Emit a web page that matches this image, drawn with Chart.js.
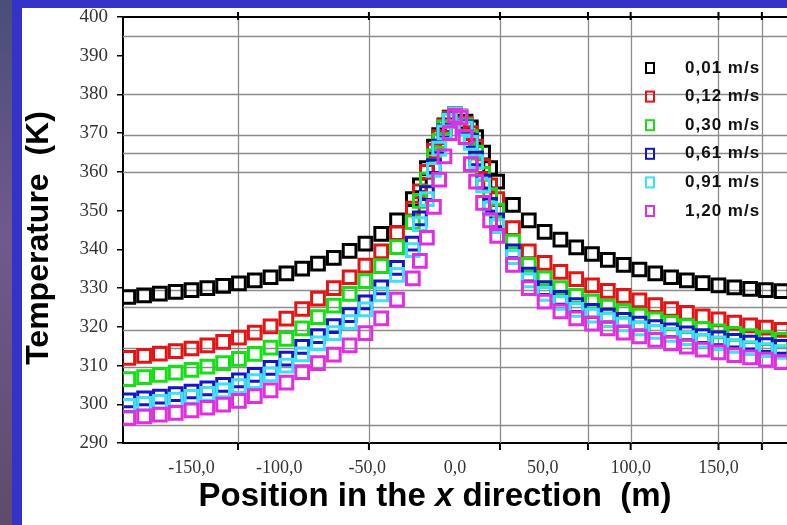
<!DOCTYPE html>
<html>
<head>
<meta charset="utf-8">
<script src="https://cdn.jsdelivr.net/npm/chart.js@4.4.1/dist/chart.umd.min.js"></script>
<style>
  html, body { margin: 0; padding: 0; width: 787px; height: 525px; overflow: hidden; }
  body { position: relative; background: linear-gradient(180deg, #4a4e78 0%, #6f5a8c 45%, #5e4c6a 100%); }
  #frame { position: absolute; left: 12px; top: 0; width: 775px; height: 525px; background: #3532c9; }
  #sheet { position: absolute; left: 22px; top: 8px; width: 765px; height: 517px; background: #fff; overflow: hidden; }
  canvas { display: block; }
</style>
</head>
<body>
<div id="frame"></div>
<div id="sheet"><canvas id="c" width="765" height="517"></canvas></div>
<script>
// Position along x (m) of each sample
const positions = [
  -186, -177, -168, -159, -150, -141, -132, -123, -114, -105, -96, -87, -78, -69, -60, -51, -42, -33, -24,
  -20, -16, -12, -9, -6, -3, 0, 3, 6, 9, 12, 16, 20,
  24, 33, 42, 51, 60, 69, 78, 87, 96, 105, 114, 123, 132, 141, 150, 159, 168, 177, 186
];

// Temperature (K) for each wind speed
const temp001 = [
  327.7, 328.1, 328.6, 329.0, 329.5, 330.0, 330.6, 331.2, 332.0, 332.8, 333.8, 335.0, 336.3, 337.8, 339.6, 341.5, 344.0, 347.5, 353.0,
  356.5, 361.0, 366.5, 369.5, 372.0, 374.0, 374.8, 374.3, 373.0, 371.5, 369.0, 365.0, 361.0,
  357.5, 351.5, 347.5, 344.5, 342.5, 340.5, 338.8, 337.3, 336.0, 334.8, 333.8, 332.8, 332.0, 331.3, 330.7, 330.2, 329.8, 329.5, 329.2
];
const temp012 = [
  312.0, 312.5, 313.1, 313.7, 314.4, 315.2, 316.1, 317.2, 318.5, 320.1, 322.1, 324.6, 327.3, 330.0, 332.8, 335.8, 339.5, 344.2, 350.5,
  355.0, 360.0, 365.5, 369.0, 371.8, 373.8, 374.8, 374.3, 372.5, 370.0, 366.5, 361.5, 356.5,
  353.0, 345.5, 339.5, 336.5, 334.2, 332.3, 330.7, 329.3, 328.0, 326.8, 325.6, 324.6, 323.6, 322.7, 321.9, 321.1, 320.4, 319.8, 319.2
];
const temp030 = [
  306.5, 307.0, 307.6, 308.2, 308.9, 309.7, 310.6, 311.7, 313.0, 314.6, 316.9, 319.6, 322.5, 325.5, 328.5, 331.8, 335.7, 340.6, 347.0,
  352.5, 358.0, 364.0, 368.0, 371.5, 373.5, 374.8, 374.2, 372.0, 369.0, 365.0, 359.5, 354.0,
  350.0, 342.0, 336.0, 332.5, 330.0, 328.0, 326.5, 325.2, 324.0, 322.9, 321.9, 321.0, 320.2, 319.5, 318.8, 318.2, 317.6, 317.1, 316.6
];
const temp061 = [
  301.0, 301.5, 302.0, 302.6, 303.3, 304.1, 305.0, 306.2, 307.6, 309.4, 311.8, 314.8, 317.6, 320.2, 323.0, 326.3, 330.2, 335.2, 341.5,
  348.0, 354.5, 361.5, 366.5, 370.5, 373.3, 374.8, 374.2, 371.5, 368.0, 363.5, 357.5, 351.5,
  347.5, 339.5, 333.5, 330.0, 327.5, 325.6, 324.1, 322.9, 321.8, 320.8, 319.9, 319.1, 318.3, 317.6, 317.0, 316.4, 315.9, 315.3, 314.8
];
const temp091 = [
  299.6, 300.1, 300.6, 301.2, 301.9, 302.7, 303.6, 304.7, 306.0, 307.7, 310.0, 312.9, 315.7, 318.4, 321.2, 324.5, 328.4, 333.4, 339.8,
  346.5, 353.0, 360.5, 366.0, 370.2, 373.2, 374.8, 374.2, 371.2, 367.5, 362.5, 356.5, 350.5,
  346.0, 338.0, 332.0, 328.5, 326.2, 324.4, 322.9, 321.7, 320.6, 319.6, 318.7, 317.9, 317.1, 316.4, 315.7, 315.1, 314.5, 314.0, 313.5
];
const temp120 = [
  296.5, 296.9, 297.3, 297.8, 298.4, 299.1, 299.9, 300.9, 302.1, 303.6, 305.6, 308.3, 310.6, 312.8, 315.2, 318.4, 322.2, 327.0, 332.5,
  337.0, 343.0, 351.0, 358.0, 364.0, 370.0, 374.5, 374.0, 369.0, 362.0, 357.5, 352.0, 347.5,
  343.5, 336.0, 330.0, 326.5, 324.0, 322.2, 320.8, 319.6, 318.5, 317.5, 316.6, 315.7, 314.9, 314.1, 313.4, 312.7, 312.1, 311.5, 310.9
];

const speedLabels = ['0,01 m/s', '0,12 m/s', '0,30 m/s', '0,61 m/s', '0,91 m/s', '1,20 m/s'];
const speedSeries = [temp001, temp012, temp030, temp061, temp091, temp120];
const speedColors = ['#000000', '#e41414', '#14e014', '#1414c8', '#3ee0f8', '#e02ee0'];

// Axis ticks and the extra grid lines of the plotting paper
const xTickValues = [-150, -100, -50, 0, 50, 100, 150];
const yTickValues = [290, 300, 310, 320, 330, 340, 350, 360, 370, 380, 390, 400];
const xGridValues = [-123.5, -49, 25.6, 75.7, 100, 150, 174.7];
const yGridValues = [395, 380, 369.5, 365, 360, 329.5, 325, 319.3, 314.5, 309.6, 294.6];

const datasets = speedSeries.map((vals, i) => ({
  label: speedLabels[i],
  data: positions.map((p, j) => ({ x: p, y: vals[j] })),
  borderColor: speedColors[i],
  backgroundColor: 'rgba(0,0,0,0)',
  pointStyle: 'rect',
  pointRadius: 9,
  pointBorderWidth: 3,
  showLine: false,
  order: speedSeries.length - i
}));

const paperGrid = {
  id: 'paperGrid',
  beforeDatasetsDraw(chart) {
    const { ctx, chartArea: a, scales: { x, y } } = chart;
    ctx.save();
    ctx.strokeStyle = '#8c8c8c';
    ctx.lineWidth = 1.3;
    ctx.beginPath();
    xGridValues.forEach(v => {
      const px = Math.round(x.getPixelForValue(v)) + 0.5;
      ctx.moveTo(px, a.top); ctx.lineTo(px, a.bottom);
    });
    yGridValues.forEach(v => {
      const py = Math.round(y.getPixelForValue(v)) + 0.5;
      ctx.moveTo(a.left, py); ctx.lineTo(a.right, py);
    });
    ctx.stroke();
    ctx.strokeStyle = '#000';
    ctx.lineWidth = 2;
    ctx.beginPath();
    ctx.moveTo(a.left, a.top); ctx.lineTo(a.right, a.top);
    xGridValues.forEach(v => {
      const px = x.getPixelForValue(v);
      ctx.moveTo(px, a.top - 5); ctx.lineTo(px, a.top + 3);
      ctx.moveTo(px, a.bottom); ctx.lineTo(px, a.bottom + 7);
    });
    ctx.stroke();
    ctx.restore();
  }
};

const insideLegend = {
  id: 'insideLegend',
  afterDatasetsDraw(chart) {
    const { ctx, chartArea: a } = chart;
    ctx.save();
    ctx.font = 'bold 17px "Liberation Sans", Arial, sans-serif';
    ctx.textBaseline = 'middle';
    ctx.textAlign = 'left';
    ctx.letterSpacing = '1px';
    chart.data.datasets.forEach((ds, i) => {
      const yy = a.top + 51 + i * 28.6;
      const mx = a.right - 137;
      ctx.strokeStyle = ds.borderColor;
      ctx.lineWidth = 2;
      ctx.strokeRect(mx - 4, yy - 5, 8, 10);
      ctx.fillStyle = '#111';
      ctx.fillText(ds.label, a.right - 102, yy);
    });
    ctx.restore();
  }
};

const axisTitles = {
  id: 'axisTitles',
  afterDraw(chart) {
    const { ctx, chartArea: a } = chart;
    ctx.save();
    ctx.fillStyle = '#000';
    ctx.textBaseline = 'middle';
    // vertical title
    ctx.save();
    ctx.translate(17, (a.top + a.bottom) / 2 + 8);
    ctx.rotate(-Math.PI / 2);
    ctx.textAlign = 'center';
    ctx.font = 'bold 32px "Liberation Sans", Arial, sans-serif';
    ctx.fillText('Temperature  (K)', 0, 0);
    ctx.restore();
    // horizontal title with italic x
    const f = '33px "Liberation Sans", Arial, sans-serif';
    const parts = [
      ['Position in the ', 'bold ' + f],
      ['x', 'italic bold ' + f],
      [' direction  (m)', 'bold ' + f]
    ];
    let total = 0;
    parts.forEach(([t, font]) => { ctx.font = font; total += ctx.measureText(t).width; });
    let cx = (a.left + a.right) / 2 - 20 - total / 2;
    const cy = 489;
    ctx.textAlign = 'left';
    parts.forEach(([t, font]) => { ctx.font = font; ctx.fillText(t, cx, cy); cx += ctx.measureText(t).width; });
    ctx.restore();
  }
};

new Chart(document.getElementById('c'), {
  type: 'scatter',
  data: { datasets },
  options: {
    responsive: false,
    animation: false,
    events: [],
    layout: { autoPadding: false, padding: { top: 9, right: 0, bottom: 0, left: 0 } },
    plugins: { legend: { display: false }, tooltip: { enabled: false } },
    scales: {
      x: {
        type: 'linear',
        min: -189,
        max: 189,
        afterBuildTicks: s => { s.ticks = xTickValues.map(v => ({ value: v })); },
        afterFit: s => { s.height = 82; s.paddingLeft = 0; s.paddingRight = 0; },
        ticks: {
          autoSkip: false,
          maxRotation: 0,
          padding: 6,
          color: '#333',
          font: { family: '"Liberation Serif", "Times New Roman", serif', size: 18 },
          callback: v => (v < 0 ? '-' : '') + Math.abs(v) + ',0'
        },
        grid: { drawOnChartArea: false, color: 'rgba(0,0,0,0)', tickLength: 8 },
        border: { display: true, color: '#000', width: 2 }
      },
      y: {
        type: 'linear',
        min: 290,
        max: 400,
        afterBuildTicks: s => { s.ticks = yTickValues.map(v => ({ value: v })); },
        afterFit: s => { s.width = 101; s.paddingTop = 0; s.paddingBottom = 0; },
        ticks: {
          autoSkip: false,
          padding: 9,
          color: '#333',
          font: { family: '"Liberation Serif", "Times New Roman", serif', size: 19 }
        },
        grid: { drawOnChartArea: false, color: '#000', lineWidth: 1.5, tickLength: 6 },
        border: { display: true, color: '#000', width: 2 }
      }
    }
  },
  plugins: [paperGrid, insideLegend, axisTitles]
});
</script>
</body>
</html>
